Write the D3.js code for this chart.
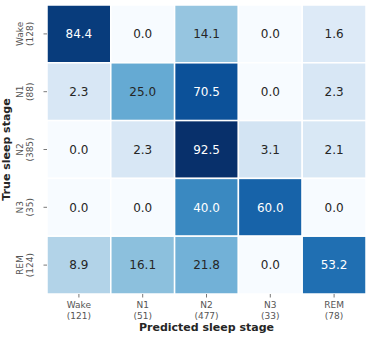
<!DOCTYPE html>
<html><head><meta charset="utf-8">
<script src="https://cdn.jsdelivr.net/npm/d3@7"></script>
<style>body{margin:0;background:#fff}svg{display:block}text{font-family:"DejaVu Sans",sans-serif}</style>
</head><body><svg id="c" width="369" height="341"></svg>
<script>
const trueStages = ["Wake","N1","N2","N3","REM"];
const trueCounts = [128, 88, 385, 35, 124];
const predStages = ["Wake","N1","N2","N3","REM"];
const predCounts = [121, 51, 477, 33, 78];
const values = [
  [84.4, 0.0, 14.1, 0.0, 1.6],
  [2.3, 25.0, 70.5, 0.0, 2.3],
  [0.0, 2.3, 92.5, 3.1, 2.1],
  [0.0, 0.0, 40.0, 60.0, 0.0],
  [8.9, 16.1, 21.8, 0.0, 53.2]
];
const xTitle = "Predicted sleep stage";
const yTitle = "True sleep stage";

const svg = d3.select("#c");
const m = {l:47, t:5, r:3, b:47};
const W = 369 - m.l - m.r, H = 341 - m.t - m.b;
const g = svg.append("g").attr("transform", `translate(${m.l},${m.t})`);
const x = d3.scaleBand().domain(d3.range(5)).range([0, W]);
const y = d3.scaleBand().domain(d3.range(5)).range([0, H]);
const vmax = d3.max(values.flat());
const color = d3.scaleSequentialSqrt(d3.interpolateBlues).domain([0, vmax]);

function lum(c){
  const r = d3.rgb(c);
  const f = v => { v/=255; return v<=0.03928? v/12.92 : Math.pow((v+0.055)/1.055,2.4); };
  return 0.2126*f(r.r)+0.7152*f(r.g)+0.0722*f(r.b);
}
const cells = [];
values.forEach((row,i)=>row.forEach((v,j)=>cells.push({i,j,v})));
g.selectAll("rect").data(cells).join("rect")
  .attr("x", d=>x(d.j)).attr("y", d=>y(d.i))
  .attr("width", x.bandwidth()).attr("height", y.bandwidth())
  .attr("fill", d=>color(d.v)).attr("stroke","#fff").attr("stroke-width",1.5);
g.selectAll("text.v").data(cells).join("text").attr("class","v")
  .attr("x", d=>x(d.j)+x.bandwidth()/2).attr("y", d=>y(d.i)+y.bandwidth()/2)
  .attr("dy","0.36em").attr("text-anchor","middle").attr("font-size",12)
  .attr("fill", d=> lum(color(d.v))>0.36 ? "#262626" : "#fff")
  .text(d=>d.v.toFixed(1));

// x axis
const xa = g.append("g").attr("transform",`translate(0,${H})`);
d3.range(5).forEach(j=>{
  const cx = x(j)+x.bandwidth()/2;
  xa.append("line").attr("x1",cx).attr("x2",cx).attr("y1",0).attr("y2",3.5).attr("stroke","#555").attr("stroke-width",0.8);
  const t = xa.append("text").attr("x",cx).attr("y",14).attr("text-anchor","middle").attr("font-size",9).attr("fill","#555");
  t.append("tspan").attr("x",cx).text(predStages[j]);
  t.append("tspan").attr("x",cx).attr("dy",10.5).text(`(${predCounts[j]})`);
});
g.append("text").attr("x",W/2).attr("y",H+37).attr("text-anchor","middle").attr("font-size",11).attr("font-weight","bold").attr("fill","#262626").text(xTitle);

// y axis
const ya = g.append("g");
d3.range(5).forEach(i=>{
  const cy = y(i)+y.bandwidth()/2;
  ya.append("line").attr("x1",-3.5).attr("x2",0).attr("y1",cy).attr("y2",cy).attr("stroke","#555").attr("stroke-width",0.8);
  const t = ya.append("text").attr("transform",`translate(-14,${cy}) rotate(-90)`).attr("text-anchor","middle").attr("font-size",9).attr("fill","#555");
  t.append("tspan").attr("x",0).attr("y",-10.5).text(trueStages[i]);
  t.append("tspan").attr("x",0).attr("y",0).text(`(${trueCounts[i]})`);
});
g.append("text").attr("transform",`translate(-37,${H/2}) rotate(-90)`).attr("text-anchor","middle").attr("font-size",11).attr("font-weight","bold").attr("fill","#262626").text(yTitle);
</script></body></html>
